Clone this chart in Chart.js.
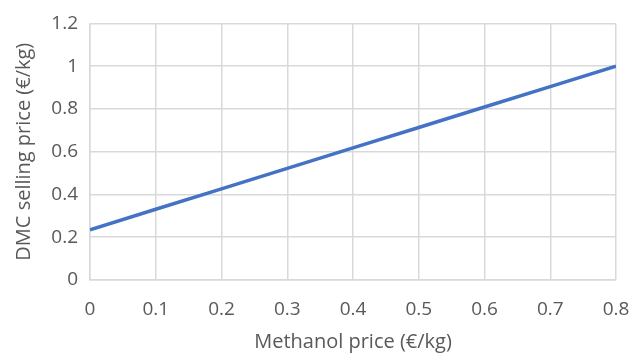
<!DOCTYPE html>
<html><head><meta charset="utf-8">
<script src="https://cdn.jsdelivr.net/npm/chart.js@4"></script>
<style>html,body{margin:0;padding:0;background:#fff}#wrap{width:635px;height:354px}</style>
</head><body><div id="wrap"><canvas id="c" width="635" height="354"></canvas></div>
<script>
const methanolPrice = [0, 0.1, 0.2, 0.3, 0.4, 0.5, 0.6, 0.7, 0.8];
const dmcPrice = [0.235, 0.331, 0.426, 0.522, 0.618, 0.713, 0.809, 0.904, 1.0];
const xTitle = 'Methanol price (€/kg)';
const yTitle = 'DMC selling price (€/kg)';
const fontFam = '"Open Sans", "Noto Sans", sans-serif';
const fmt = v => String(+Number(v).toFixed(1));
new Chart(document.getElementById('c'), {
  type: 'line',
  data: { datasets: [{ data: methanolPrice.map((x, i) => ({x, y: dmcPrice[i]})), borderColor: '#4472c4', borderWidth: 3.5, pointRadius: 0, tension: 0 }] },
  options: {
    responsive: false, animation: false,
    layout: { padding: { top: 10, right: 19, left: 12, bottom: 0 } },
    plugins: { legend: { display: false }, tooltip: { enabled: false } },
    scales: {
      x: { type: 'linear', min: 0, max: 0.8,
        afterFit: s => { s.height = 74; s.paddingRight = 0; s.paddingLeft = 0; },
        ticks: { stepSize: 0.1, color: '#595959', font: { family: fontFam, size: 19 }, padding: 18, callback: fmt },
        grid: { color: '#d9d9d9', lineWidth: 1.5, drawTicks: false },
        border: { color: '#d9d9d9', width: 1.5 },
        title: { display: true, text: xTitle, color: '#595959', font: { family: fontFam, size: 20 }, padding: { top: 0, bottom: 0 } } },
      y: { min: 0, max: 1.2,
        afterFit: s => { s.width = 78; },
        ticks: { stepSize: 0.2, color: '#595959', font: { family: fontFam, size: 19 }, padding: 12, callback: fmt },
        grid: { color: '#d9d9d9', lineWidth: 1.5, drawTicks: false },
        border: { color: '#d9d9d9', width: 1.5 },
        title: { display: true, text: yTitle, color: '#595959', font: { family: fontFam, size: 20 }, padding: { top: 0, bottom: 4 } } }
    }
  }
});
</script></body></html>
